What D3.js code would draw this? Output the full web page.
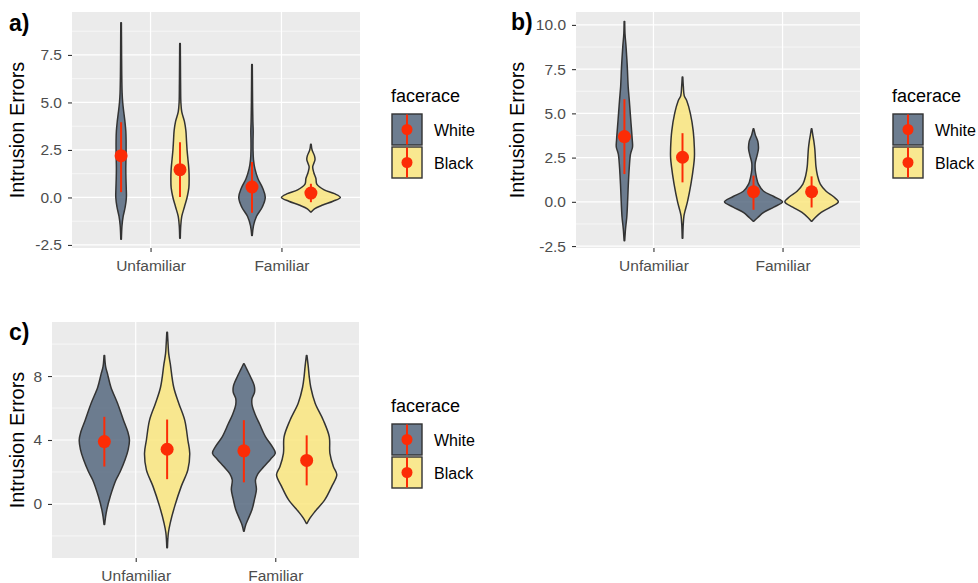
<!DOCTYPE html>
<html>
<head>
<meta charset="utf-8">
<script src="https://cdn.jsdelivr.net/npm/d3@7"></script>
<style>
  html, body { margin: 0; padding: 0; background: #ffffff; }
  svg { display: block; }
  text { font-family: "Liberation Sans", Arial, Helvetica, sans-serif; }
</style>
</head>
<body>
<div id="chart"></div>
<script>
// ---------------- DATA ----------------
const categories = ["Unfamiliar", "Familiar"];
const groups = ["White", "Black"];
const legendTitle = "facerace";
const yTitle = "Intrusion Errors";
const panelTags = ["a)", "b)", "c)"];

// y tick labels per panel
const aTicks = [-2.5, 0, 2.5, 5, 7.5];
const aMinor = [-1.25, 1.25, 3.75, 6.25, 8.75];
const bTicks = [-2.5, 0, 2.5, 5, 7.5, 10];
const bMinor = [-1.25, 1.25, 3.75, 6.25, 8.75];
const cTicks = [0, 4, 8];
const cMinor = [-2, 2, 6, 10];

// violin profiles: [value, relative width (1 = full dodge width)]
const aUnfWhite = [[9.2,0.01],[8,0.015],[6.5,0.022],[5.5,0.035],[5.0,0.055],[4.5,0.09],[4.0,0.13],[3.5,0.16],[3.0,0.17],[2.5,0.17],[2.0,0.165],[1.5,0.16],[1.0,0.165],[0.5,0.175],[0,0.18],[-0.5,0.14],[-1,0.07],[-1.5,0.03],[-2.2,0.01]];
const aUnfBlack = [[8.1,0.01],[7,0.015],[6,0.02],[5,0.03],[4.5,0.06],[4.0,0.15],[3.5,0.2],[3.0,0.22],[2.5,0.24],[2.0,0.27],[1.5,0.3],[1.0,0.31],[0.5,0.3],[0,0.24],[-0.5,0.15],[-1.0,0.06],[-1.5,0.025],[-2.15,0.01]];
const aFamWhite = [[7.0,0.01],[6,0.015],[5,0.02],[4,0.03],[3.5,0.04],[3.0,0.035],[2.5,0.035],[2.0,0.05],[1.5,0.1],[1.0,0.2],[0.5,0.36],[0,0.45],[-0.5,0.35],[-1.0,0.15],[-1.5,0.05],[-2.0,0.01]];
const aFamBlack = [[2.8,0.01],[2.5,0.04],[2.2,0.12],[2.0,0.14],[1.8,0.1],[1.6,0.06],[1.3,0.1],[1.0,0.17],[0.7,0.2],[0.4,0.45],[0.2,0.8],[0,1.0],[-0.2,0.75],[-0.4,0.4],[-0.6,0.12],[-0.77,0.01]];

const bUnfWhite = [[10.2,0.01],[9.5,0.02],[8.8,0.055],[7.6,0.1],[6.5,0.13],[5.7,0.17],[4.6,0.22],[3.5,0.27],[3.1,0.28],[2.7,0.21],[2.0,0.17],[1.0,0.135],[0,0.11],[-0.9,0.08],[-1.5,0.04],[-2.2,0.01]];
const bUnfBlack = [[7.06,0.01],[6.5,0.03],[6.0,0.06],[5.7,0.15],[5.0,0.27],[4.0,0.37],[3.0,0.41],[2.5,0.41],[2.0,0.38],[1.0,0.29],[0,0.17],[-0.5,0.09],[-0.8,0.05],[-1.3,0.025],[-2.06,0.01]];
const bFamWhite = [[4.13,0.01],[3.8,0.06],[3.4,0.15],[3.0,0.17],[2.6,0.12],[2.2,0.06],[1.8,0.06],[1.4,0.1],[1.0,0.17],[0.6,0.35],[0.3,0.7],[0,1.0],[-0.3,0.7],[-0.6,0.35],[-0.9,0.14],[-1.1,0.01]];
const bFamBlack = [[4.13,0.01],[3.8,0.04],[3.4,0.08],[3.0,0.11],[2.5,0.13],[2.0,0.15],[1.5,0.2],[1.0,0.3],[0.6,0.5],[0.3,0.75],[0,0.92],[-0.3,0.65],[-0.6,0.33],[-0.9,0.12],[-1.1,0.01]];

const cUnfWhite = [[9.28,0.01],[8.6,0.04],[8.15,0.1],[7.3,0.21],[6.3,0.42],[5.24,0.61],[4.5,0.75],[4.0,0.8],[3.4,0.76],[2.76,0.66],[2.0,0.5],[1.5,0.37],[0.48,0.19],[-0.35,0.08],[-0.8,0.04],[-1.28,0.01]];
const cUnfBlack = [[10.74,0.01],[10,0.03],[9.4,0.05],[8.77,0.1],[7.3,0.21],[6.3,0.37],[5.24,0.56],[4.0,0.66],[3.17,0.72],[2.13,0.66],[1.1,0.45],[-0.15,0.24],[-1.18,0.1],[-1.8,0.04],[-2.74,0.01]];
const cFamWhite = [[8.77,0.01],[8.4,0.1],[8.0,0.2],[7.4,0.33],[7.0,0.34],[6.6,0.26],[6.2,0.26],[5.6,0.36],[5.0,0.5],[4.2,0.69],[3.6,0.9],[3.17,1.0],[2.8,0.85],[2.34,0.64],[1.9,0.45],[1.5,0.37],[0.9,0.4],[0.3,0.34],[-0.35,0.26],[-0.97,0.13],[-1.3,0.06],[-1.7,0.01]];
const cFamBlack = [[9.28,0.01],[8.6,0.05],[8.0,0.08],[7.3,0.13],[6.3,0.27],[5.24,0.53],[4.2,0.72],[3.17,0.74],[2.34,0.85],[1.82,0.96],[1.1,0.8],[0.27,0.58],[-0.46,0.27],[-0.9,0.1],[-1.22,0.01]];

// point ranges, order: Unfamiliar-White, Unfamiliar-Black, Familiar-White, Familiar-Black
const aMean = [2.2, 1.46, 0.55, 0.23];
const aLow  = [0.28, 0.02, -0.8, -0.25];
const aHigh = [3.96, 2.9, 1.86, 0.72];
const bMean = [3.69, 2.52, 0.57, 0.57];
const bLow  = [1.57, 1.1, -0.45, -0.32];
const bHigh = [5.8, 3.88, 1.48, 1.44];
const cMean = [3.9, 3.42, 3.32, 2.72];
const cLow  = [2.34, 1.55, 1.35, 1.16];
const cHigh = [5.45, 5.28, 5.24, 4.29];

// ---------------- STYLE / LAYOUT ----------------
const fills = { White: "#56687f", Black: "#fae67f" };
const fillOpacity = 0.85;
const red = "#fc2c06";
const FONT = '"Liberation Sans", Arial, Helvetica, sans-serif';

const svg = d3.select("#chart").append("svg")
  .attr("width", 978).attr("height", 583);

function drawPanel(cfg) {
  const g = svg.append("g");
  const x = d3.scalePoint().domain(categories).range([cfg.left, cfg.right]).padding(0.6);
  const step = x.step();
  const dodge = d3.scaleOrdinal().domain(groups).range([-0.225 * step, 0.225 * step]);
  const half = d3.scaleLinear().domain([0, 1]).range([0, 0.225 * step]);
  const y = d3.scaleLinear().domain(cfg.domain).range([cfg.bottom, cfg.top]);

  // background
  g.append("rect").attr("x", cfg.left).attr("y", cfg.top)
    .attr("width", cfg.right - cfg.left).attr("height", cfg.bottom - cfg.top)
    .attr("fill", "#ebebeb");
  // minor grid
  g.selectAll(".minor").data(cfg.minor).enter().append("line")
    .attr("x1", cfg.left).attr("x2", cfg.right)
    .attr("y1", d => y(d)).attr("y2", d => y(d))
    .attr("stroke", "#ffffff").attr("stroke-width", 0.6);
  // major grid
  g.selectAll(".major").data(cfg.ticks).enter().append("line")
    .attr("x1", cfg.left).attr("x2", cfg.right)
    .attr("y1", d => y(d)).attr("y2", d => y(d))
    .attr("stroke", "#ffffff").attr("stroke-width", 1.2);
  g.selectAll(".majorx").data(categories).enter().append("line")
    .attr("x1", d => x(d)).attr("x2", d => x(d))
    .attr("y1", cfg.top).attr("y2", cfg.bottom)
    .attr("stroke", "#ffffff").attr("stroke-width", 1.2);

  // axes
  const ya = g.append("g").attr("transform", `translate(${cfg.left},0)`)
    .call(d3.axisLeft(y).tickValues(cfg.ticks).tickSize(4).tickPadding(6).tickFormat(cfg.fmt));
  const xa = g.append("g").attr("transform", `translate(0,${cfg.bottom})`)
    .call(d3.axisBottom(x).tickSize(4).tickPadding(8));
  [ya, xa].forEach(a => {
    a.select(".domain").remove();
    a.selectAll(".tick line").attr("stroke", "#333333").attr("stroke-width", 1.1);
    a.selectAll(".tick text").attr("fill", "#4d4d4d")
      .style("font-family", FONT).style("font-size", "15.5px");
  });

  // violins
  const rows = [];
  categories.forEach((c, ci) => groups.forEach((gr, gi) => {
    rows.push({ cat: c, grp: gr, prof: cfg.violins[ci * 2 + gi], idx: ci * 2 + gi });
  }));
  rows.forEach(r => {
    const cx = x(r.cat) + dodge(r.grp);
    const prof = r.prof.slice().sort((p, q) => q[0] - p[0]);
    const area = d3.area()
      .y(d => y(d[0]))
      .x0(d => cx - half(d[1]))
      .x1(d => cx + half(d[1]))
      .curve(d3.curveCatmullRom.alpha(0.5));
    g.append("path").attr("d", area(prof))
      .attr("fill", fills[r.grp]).attr("fill-opacity", fillOpacity)
      .attr("stroke", "#333333").attr("stroke-width", 1.5).attr("stroke-linejoin", "round");
  });
  // point ranges
  rows.forEach(r => {
    const cx = x(r.cat) + dodge(r.grp);
    g.append("line").attr("x1", cx).attr("x2", cx)
      .attr("y1", y(cfg.low[r.idx])).attr("y2", y(cfg.high[r.idx]))
      .attr("stroke", red).attr("stroke-width", 2);
    g.append("circle").attr("cx", cx).attr("cy", y(cfg.mean[r.idx])).attr("r", 6.5)
      .attr("fill", red);
  });

  // y title
  g.append("text")
    .attr("transform", `translate(${cfg.titleX},${(cfg.top + cfg.bottom) / 2}) rotate(-90)`)
    .attr("text-anchor", "middle").attr("dy", "0.35em")
    .style("font-size", "20px").attr("fill", "#000").text(yTitle);

  // tag
  g.append("text").attr("x", cfg.tagX).attr("y", cfg.tagY)
    .style("font-size", "23px").style("font-weight", "bold").attr("fill", "#000")
    .text(cfg.tag);

  // legend
  const lg = g.append("g").attr("transform", `translate(${cfg.legX},${cfg.legY})`);
  lg.append("text").attr("x", 0).attr("y", -11)
    .style("font-size", "18px").attr("fill", "#000").text(legendTitle);
  const keyW = 31, keyH = 32;
  groups.forEach((gr, i) => {
    const ky = i * (keyH + 1);
    lg.append("rect").attr("x", 0.5).attr("y", ky + 0.5).attr("width", keyW).attr("height", keyH)
      .attr("fill", "#f2f2f2");
    lg.append("rect").attr("x", 1).attr("y", ky + 1).attr("width", keyW - 1).attr("height", keyH - 1)
      .attr("fill", fills[gr]).attr("fill-opacity", fillOpacity)
      .attr("stroke", "#333333").attr("stroke-width", 1.4);
    lg.append("line").attr("x1", 1 + (keyW - 1) / 2).attr("x2", 1 + (keyW - 1) / 2)
      .attr("y1", ky + 1.5).attr("y2", ky + keyH - 0.5)
      .attr("stroke", red).attr("stroke-width", 2);
    lg.append("circle").attr("cx", 1 + (keyW - 1) / 2).attr("cy", ky + 1 + (keyH - 1) / 2)
      .attr("r", 5.5).attr("fill", red);
    lg.append("text").attr("x", keyW + 12).attr("y", ky + keyH / 2 + 1).attr("dy", "0.35em")
      .style("font-size", "16px").attr("fill", "#000").text(gr);
  });
}

drawPanel({
  left: 72, right: 360, top: 12, bottom: 248,
  domain: [-2.66, 9.76], ticks: aTicks, minor: aMinor, fmt: d => d.toFixed(1),
  violins: [aUnfWhite, aUnfBlack, aFamWhite, aFamBlack],
  mean: aMean, low: aLow, high: aHigh,
  titleX: 17, tag: panelTags[0], tagX: 9, tagY: 31,
  legX: 391, legY: 113
});
drawPanel({
  left: 576, right: 860, top: 12, bottom: 248,
  domain: [-2.61, 10.73], ticks: bTicks, minor: bMinor, fmt: d => d.toFixed(1),
  violins: [bUnfWhite, bUnfBlack, bFamWhite, bFamBlack],
  mean: bMean, low: bLow, high: bHigh,
  titleX: 517, tag: panelTags[1], tagX: 511, tagY: 30,
  legX: 892, legY: 113
});
drawPanel({
  left: 52, right: 359, top: 322, bottom: 558,
  domain: [-3.38, 11.38], ticks: cTicks, minor: cMinor, fmt: d => String(d),
  violins: [cUnfWhite, cUnfBlack, cFamWhite, cFamBlack],
  mean: cMean, low: cLow, high: cHigh,
  titleX: 17, tag: panelTags[2], tagX: 9, tagY: 340,
  legX: 391, legY: 423
});
</script>
</body>
</html>
